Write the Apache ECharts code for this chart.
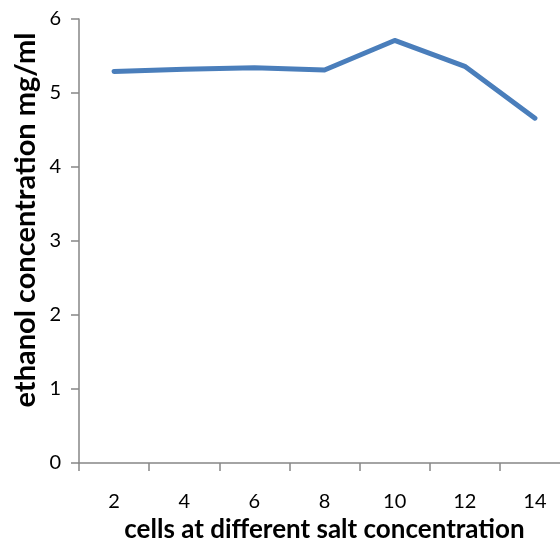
<!DOCTYPE html>
<html>
<head>
<meta charset="utf-8">
<script src="https://cdn.jsdelivr.net/npm/echarts@6/dist/echarts.min.js"></script>
<style>
  html, body { margin: 0; padding: 0; background: #fff; overflow: hidden; }
  /* the plot runs on past the right edge of the window */
  #chart { width: 570px; height: 548px; }
</style>
</head>
<body>
<div id="chart"></div>
<script>
// Salt concentration levels (x categories)
const saltLevels = ['2', '4', '6', '8', '10', '12', '14'];
// Ethanol concentration measured for each level, mg/ml
const ethanolValues = [5.29, 5.32, 5.34, 5.31, 5.71, 5.36, 4.66];
// Value axis range
const yMin = 0;
const yMax = 6;
const yStep = 1;

const axisGrey = '#868686';
const font = 'Lato, "Open Sans", sans-serif';

const chart = echarts.init(document.getElementById('chart'), null, { renderer: 'canvas' });
chart.setOption({
  animation: false,
  backgroundColor: '#ffffff',
  grid: { left: 79, top: 19, right: 0, height: 447.5, containLabel: false },
  xAxis: {
    type: 'category',
    data: saltLevels,
    boundaryGap: true,
    name: 'cells at different salt concentration',
    nameLocation: 'middle',
    nameGap: 54,
    nameTextStyle: { fontFamily: font, fontSize: 26, fontWeight: 'bold', color: '#000' },
    axisLine: { lineStyle: { color: axisGrey, width: 1.5 } },
    axisTick: { show: true, inside: false, length: 8, interval: 0, alignWithLabel: false, lineStyle: { color: axisGrey, width: 1.5 } },
    axisLabel: { fontFamily: font, fontSize: 20, color: '#000', margin: 29, interval: 0 },
    splitLine: { show: false }
  },
  yAxis: {
    type: 'value',
    min: yMin,
    max: yMax,
    interval: yStep,
    axisLine: { show: true, lineStyle: { color: axisGrey, width: 1.5 } },
    axisTick: { show: true, inside: false, length: 8, lineStyle: { color: axisGrey, width: 1.5 } },
    axisLabel: { fontFamily: font, fontSize: 20, color: '#000', margin: 18 },
    splitLine: { show: false }
  },
  // Vertical axis title, set a little above the plot's centre
  graphic: [{
    type: 'text',
    x: 26,
    y: 220,
    rotation: Math.PI / 2,
    style: {
      text: 'ethanol concentration mg/ml',
      fontFamily: font,
      fontSize: 29,
      fontWeight: 'bold',
      fill: '#000',
      textAlign: 'center',
      textVerticalAlign: 'middle'
    }
  }],
  series: [{
    type: 'line',
    data: ethanolValues,
    symbol: 'none',
    lineStyle: { color: '#4A7EBB', width: 5, cap: 'round', join: 'round' },
    itemStyle: { color: '#4A7EBB' }
  }]
});
</script>
</body>
</html>
